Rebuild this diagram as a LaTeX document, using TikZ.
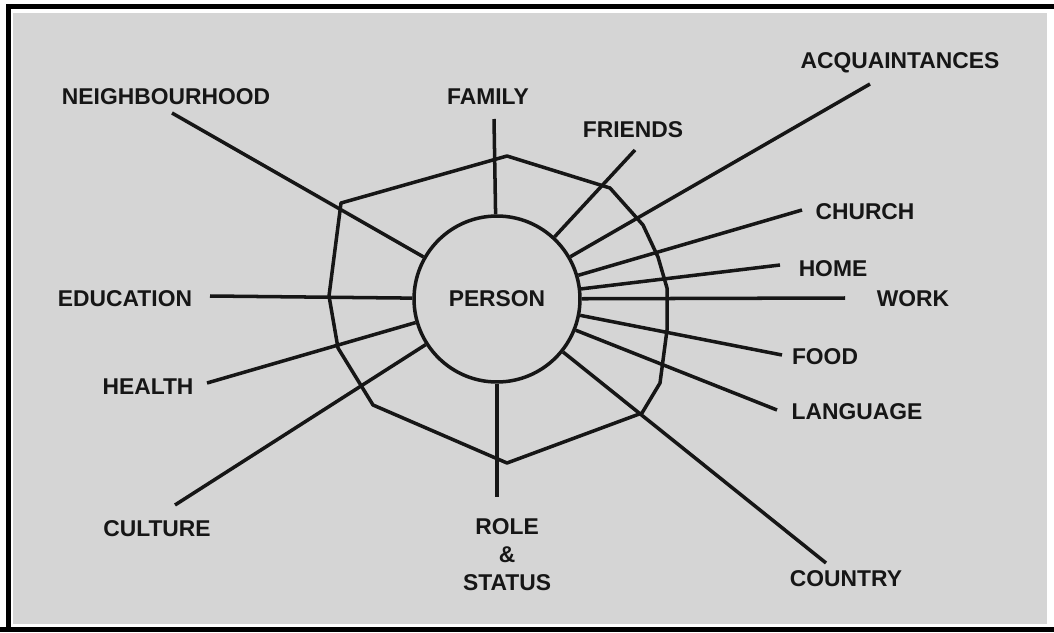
\documentclass[tikz,border=0pt]{standalone}
\usepackage{fontspec}
\setmainfont{Liberation Sans}
\usepackage{xcolor}
\definecolor{paper}{RGB}{213,213,213}
\definecolor{ink}{RGB}{22,22,22}

\begin{document}
\begin{tikzpicture}[x=0.02cm, y=-0.02cm,
  spoke/.style={line width=2pt, ink},
  rim/.style={line width=2pt, ink, line join=round},
  lbl/.style={inner sep=0pt, text height=9.3pt, text depth=0pt, ink,
    font=\fontsize{13}{16}\selectfont\bfseries}]
  \useasboundingbox (0,0) rectangle (1054,632);
  \fill[white] (0,0) rectangle (1054,632);
  \fill[paper] (13,13) rectangle (1047,624);
  \fill[black] (6,4) rectangle (1054,9);
  \fill[black] (6,4) rectangle (11,632);
  \fill[black] (0,627) rectangle (1054,632);

  \draw[rim] (507,156) -- (610,188) -- (643,225) -- (658,257) -- (667,288) -- (667,330)
    -- (660,383) -- (642,413) -- (507,463) -- (373,405) -- (338,348) -- (329,296)
    -- (341,203) -- cycle;

  \node[circle, draw, line width=2pt, ink, minimum size=3.32cm, inner sep=0pt,
    font=\fontsize{13}{16}\selectfont\bfseries] (person) at (497,299) {PERSON};

  \coordinate (neigh) at (172,113);
  \coordinate (fam) at (494,119);
  \coordinate (fri) at (635,150);
  \coordinate (acq) at (870,84);
  \coordinate (chu) at (802,210);
  \coordinate (hom) at (780,265);
  \coordinate (wor) at (845,298);
  \coordinate (foo) at (782,355);
  \coordinate (lan) at (777,410);
  \coordinate (cou) at (826,563);
  \coordinate (rol) at (497,497);
  \coordinate (cul) at (175,505);
  \coordinate (hea) at (207,383);
  \coordinate (edu) at (210,296);

  \foreach \e in {neigh,fam,fri,acq,chu,hom,wor,foo,lan,cou,rol,cul,hea,edu}
    \draw[spoke] (person) -- (\e);

  \node[lbl] (neighlbl) at (166,96) {NEIGHBOURHOOD};
  \node[lbl] (famlbl) at (488,96) {FAMILY};
  \node[lbl] (frilbl) at (633,129) {FRIENDS};
  \node[lbl] (acqlbl) at (900,60) {ACQUAINTANCES};
  \node[lbl] (chulbl) at (865,211) {CHURCH};
  \node[lbl] (homlbl) at (833,268) {HOME};
  \node[lbl] (worlbl) at (913,298) {WORK};
  \node[lbl] (foolbl) at (825,356) {FOOD};
  \node[lbl] (lanlbl) at (857,411) {LANGUAGE};
  \node[lbl] (coulbl) at (846,578) {COUNTRY};
  \node[lbl, align=center, text height=, text depth=] (rollbl) at (507,555) {ROLE\\\&\\STATUS};
  \node[lbl] (cullbl) at (157,528) {CULTURE};
  \node[lbl] (healbl) at (148,386) {HEALTH};
  \node[lbl] (edulbl) at (125,298) {EDUCATION};
\end{tikzpicture}
\end{document}
